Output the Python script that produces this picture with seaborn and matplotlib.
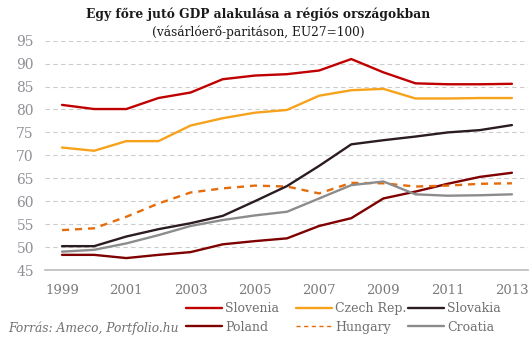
import matplotlib
matplotlib.use("Agg")
import matplotlib.pyplot as plt
import seaborn as sns
import pandas as pd

years = list(range(1999, 2014))
slovenia = [81.0, 80.1, 80.1, 82.5, 83.7, 86.6, 87.4, 87.7, 88.5, 91.0, 88.1, 85.7, 85.5, 85.5, 85.6]
czech = [71.7, 71.0, 73.1, 73.1, 76.5, 78.1, 79.3, 79.9, 83.0, 84.2, 84.5, 82.4, 82.4, 82.5, 82.5]
slovakia = [50.2, 50.2, 52.3, 53.9, 55.2, 56.8, 60.0, 63.3, 67.7, 72.4, 73.3, 74.1, 75.0, 75.5, 76.6]
poland = [48.3, 48.3, 47.6, 48.3, 48.9, 50.6, 51.3, 51.9, 54.6, 56.3, 60.6, 62.1, 63.8, 65.3, 66.2]
hungary = [53.7, 54.1, 56.6, 59.5, 61.9, 62.8, 63.4, 63.2, 61.7, 64.0, 63.9, 63.2, 63.4, 63.8, 63.9]
croatia = [49.0, 49.4, 50.8, 52.6, 54.6, 55.9, 56.9, 57.7, 60.6, 63.5, 64.3, 61.5, 61.2, 61.3, 61.5]

series_names = ["Slovenia", "Poland", "Czech Rep.", "Hungary", "Slovakia", "Croatia"]
series_vals = [slovenia, poland, czech, hungary, slovakia, croatia]
colors = {"Slovenia": "#C00000", "Poland": "#7F0000", "Czech Rep.": "#F7A21B",
          "Hungary": "#E46C0A", "Slovakia": "#2B1B22", "Croatia": "#8C8C8C"}
dashes = {"Slovenia": "", "Poland": "", "Czech Rep.": "", "Hungary": (3, 2.5),
          "Slovakia": "", "Croatia": ""}

rows = []
for n, v in zip(series_names, series_vals):
    for y, val in zip(years, v):
        rows.append({"year": y, "value": val, "country": n})
df = pd.DataFrame(rows)

sns.set_theme(style="white")
plt.rcParams['font.family'] = ['DejaVu Serif']

fig = plt.figure(figsize=(5.30, 3.41), dpi=100)
ax = fig.add_axes([45/530, 1 - 270/341, (528-45)/530, (270-40.7)/341])

sns.lineplot(data=df, x="year", y="value", hue="country", style="country",
             hue_order=series_names, style_order=series_names,
             palette=colors, dashes=dashes, linewidth=1.7, ax=ax, legend=True)
for line in ax.lines:
    if line.get_label() == "Hungary":
        line.set_linewidth(1.0)

ax.set_xlim(1998.47, 2013.5)
ax.set_ylim(45, 95)
ax.set_yticks(range(45, 100, 5))
ax.set_xticks(range(1999, 2014, 2))
ax.set_xlabel("")
ax.set_ylabel("")
ax.yaxis.grid(True, color="#cccccc", linestyle=(0, (4, 3)), linewidth=0.8)
ax.xaxis.grid(False)
for s in ["left", "right", "top"]:
    ax.spines[s].set_visible(False)
ax.spines["bottom"].set_color("#bbbbbb")
ax.spines["bottom"].set_linewidth(1.2)
ax.tick_params(axis="y", length=0, colors="#8f8f96", labelsize=10, pad=8)
ax.tick_params(axis="x", length=0, colors="#7a7a7a", labelsize=9.5, pad=10)

handles, labels = ax.get_legend_handles_labels()
ax.get_legend().remove()
hmap = dict(zip(labels, handles))
col_x = [186, 296, 408]
for i, ci in enumerate(range(0, 6, 2)):
    names = series_names[ci:ci + 2]
    leg = fig.legend([hmap[n] for n in names], names, ncol=1, loc="upper left",
                     bbox_to_anchor=(col_x[i]/530, 1 - 302/341),
                     frameon=False, fontsize=9, handlelength=2.9, handletextpad=0.25,
                     labelspacing=0.45, borderaxespad=0, borderpad=0, labelcolor="#707070")
    for lh in leg.get_lines():
        lh.set_linewidth(1.7 if lh.get_label() != "Hungary" else 1.0)

fig.text(258/530, 1 - 14/341, "Egy főre jutó GDP alakulása a régiós országokban",
         ha="center", va="center", fontsize=8.8, fontweight="bold", color="#1a1a1a")
fig.text(258/530, 1 - 32/341, "(vásárlóerő-paritáson, EU27=100)",
         ha="center", va="center", fontsize=8.7, color="#1a1a1a")
fig.text(8/530, 1 - 328/341, "Forrás: Ameco, Portfolio.hu", ha="left", va="center",
         fontsize=8.8, style="italic", color="#707070")

fig.savefig("out.png", dpi=100)
